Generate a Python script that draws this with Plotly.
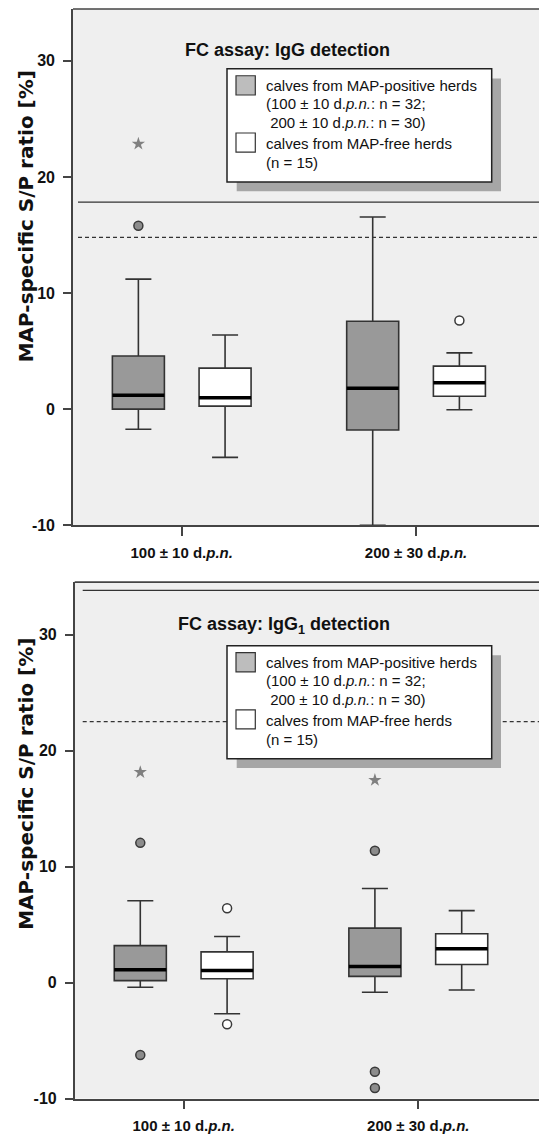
import plotly.graph_objects as go

W, H = 547, 1140
PAGE_MARGIN = 8  # default body margin of the written page

# ---------------- data ----------------
categories = ["100 ± 10 d.<i>p.n.</i>", "200 ± 30 d.<i>p.n.</i>"]
legend_lines = [
    "calves from MAP-positive herds",
    "(100 ± 10 d.<i>p.n.</i>: n = 32;",
    " 200 ± 10 d.<i>p.n.</i>: n = 30)",
    "calves from MAP-free herds",
    "(n = 15)",
]
y_ticks = [-10, 0, 10, 20, 30]

# Panel 1: IgG detection
igg_pos_q1 = [0.0, -1.8]
igg_pos_median = [1.2, 1.8]
igg_pos_q3 = [4.58, 7.57]
igg_pos_low = [-1.74, -10.0]
igg_pos_high = [11.2, 16.55]
igg_free_q1 = [0.26, 1.11]
igg_free_median = [0.97, 2.27]
igg_free_q3 = [3.53, 3.7]
igg_free_low = [-4.16, -0.06]
igg_free_high = [6.38, 4.84]
igg_pos_circle_cat = [0]
igg_pos_circle_val = [15.8]
igg_pos_star_cat = [0]
igg_pos_star_val = [22.85]
igg_free_circle_cat = [1]
igg_free_circle_val = [7.63]
igg_cutoff_solid = 17.83
igg_cutoff_dashed = 14.79

# Panel 2: IgG1 detection
igg1_pos_q1 = [0.17, 0.54]
igg1_pos_median = [1.11, 1.39]
igg1_pos_q3 = [3.19, 4.7]
igg1_pos_low = [-0.4, -0.83]
igg1_pos_high = [7.06, 8.12]
igg1_free_q1 = [0.34, 1.56]
igg1_free_median = [1.05, 2.93]
igg1_free_q3 = [2.65, 4.21]
igg1_free_low = [-2.68, -0.63]
igg1_free_high = [3.98, 6.21]
igg1_pos_circle_cat = [0, 0, 1, 1, 1]
igg1_pos_circle_val = [12.05, -6.24, 11.37, -7.69, -9.09]
igg1_pos_star_cat = [0, 1]
igg1_pos_star_val = [18.14, 17.46]
igg1_free_circle_cat = [0, 0]
igg1_free_circle_val = [6.41, -3.59]
igg1_cutoff_solid = 33.82
igg1_cutoff_dashed = 22.51

# ---------------- styling ----------------
FONT = "Liberation Sans, Arial, sans-serif"
BOX_GRAY = "#999999"
EDGE = "#333333"
OFF = 0.185
BW = 0.222

fig = go.Figure()


def px_x(x):
    return (x - PAGE_MARGIN) / W


def px_y(y):
    return 1 - (y - PAGE_MARGIN) / H


def add_panel(ax, pos, free, pos_c, pos_s, free_c):
    xa = "x" if ax == 1 else "x%d" % ax
    ya = "y" if ax == 1 else "y%d" % ax
    for (q1, med, q3, lo, hi), off, fill in [(pos, -OFF, BOX_GRAY), (free, OFF, "white")]:
        xs = [i + off for i in range(len(categories))]
        fig.add_trace(go.Box(
            x=xs, q1=q1, median=med, q3=q3, lowerfence=lo, upperfence=hi,
            width=BW, fillcolor=fill, line=dict(color=EDGE, width=1.6),
            whiskerwidth=0.5, boxpoints=False, showlegend=False,
            xaxis=xa, yaxis=ya, hoverinfo="skip"))
        # thick median bar
        fig.add_trace(go.Box(
            x=xs, q1=med, median=med, q3=med, lowerfence=med, upperfence=med,
            width=BW, fillcolor="rgba(0,0,0,0)", line=dict(color="black", width=3.5),
            whiskerwidth=0, boxpoints=False, showlegend=False,
            xaxis=xa, yaxis=ya, hoverinfo="skip"))
    cc, cv = pos_c
    fig.add_trace(go.Scatter(
        x=[c - OFF for c in cc], y=cv, mode="markers", showlegend=False,
        marker=dict(symbol="circle", size=9, color="#8c8c8c", line=dict(color="#3a3a3a", width=1.5)),
        xaxis=xa, yaxis=ya, hoverinfo="skip"))
    sc, sv = pos_s
    fig.add_trace(go.Scatter(
        x=[c - OFF for c in sc], y=sv, mode="markers", showlegend=False,
        marker=dict(symbol="star", size=10, color="#808080", line=dict(width=0)),
        xaxis=xa, yaxis=ya, hoverinfo="skip"))
    fc, fv = free_c
    fig.add_trace(go.Scatter(
        x=[c + OFF for c in fc], y=fv, mode="markers", showlegend=False,
        marker=dict(symbol="circle", size=9, color="white", line=dict(color="#3a3a3a", width=1.5)),
        xaxis=xa, yaxis=ya, hoverinfo="skip"))


add_panel(1,
          (igg_pos_q1, igg_pos_median, igg_pos_q3, igg_pos_low, igg_pos_high),
          (igg_free_q1, igg_free_median, igg_free_q3, igg_free_low, igg_free_high),
          (igg_pos_circle_cat, igg_pos_circle_val),
          (igg_pos_star_cat, igg_pos_star_val),
          (igg_free_circle_cat, igg_free_circle_val))
add_panel(2,
          (igg1_pos_q1, igg1_pos_median, igg1_pos_q3, igg1_pos_low, igg1_pos_high),
          (igg1_free_q1, igg1_free_median, igg1_free_q3, igg1_free_low, igg1_free_high),
          (igg1_pos_circle_cat, igg1_pos_circle_val),
          (igg1_pos_star_cat, igg1_pos_star_val),
          (igg1_free_circle_cat, igg1_free_circle_val))

tickfont = dict(family=FONT, size=15, color="#111111")


def xaxis_cfg(left_px, rng, anchor):
    return dict(domain=[px_x(left_px), 1.0], range=rng, anchor=anchor,
                tickmode="array", tickvals=list(range(len(categories))),
                ticktext=["<b>%s</b>" % c for c in categories],
                ticks="outside", ticklen=9, tickwidth=1.5, tickcolor="#444",
                ticklabelstandoff=4,
                showline=True, linecolor="#444", linewidth=1.6,
                showgrid=False, zeroline=False, tickfont=tickfont)


def yaxis_cfg(top_px, bot_px, rng, anchor):
    return dict(domain=[px_y(bot_px), px_y(top_px)], range=rng, anchor=anchor,
                tickmode="array", tickvals=y_ticks,
                ticktext=["<b>%d</b>" % t for t in y_ticks],
                ticks="outside", ticklen=8, tickwidth=1.5, tickcolor="#444",
                ticklabelstandoff=5,
                showline=True, linecolor="#444", linewidth=1.6,
                showgrid=False, zeroline=False,
                tickfont=dict(family=FONT, size=16, color="#111111"))


shapes = []
annotations = []


def panel_decor(ax, title, off_y, solid, dashed, line_x0, title_x, title_y, ytitle_y):
    xd = "x domain" if ax == 1 else "x%d domain" % ax
    yd = "y domain" if ax == 1 else "y%d domain" % ax
    yr = "y" if ax == 1 else "y%d" % ax
    # top frame line
    shapes.append(dict(type="line", xref=xd, yref=yd, x0=0, x1=1, y0=1, y1=1,
                       line=dict(color="#444", width=1.6)))
    # cut-off lines
    shapes.append(dict(type="line", xref="paper", yref=yr, x0=px_x(line_x0), x1=px_x(543),
                       y0=solid, y1=solid, line=dict(color="#333", width=1.3)))
    shapes.append(dict(type="line", xref="paper", yref=yr, x0=px_x(line_x0), x1=1,
                       y0=dashed, y1=dashed, line=dict(color="#333", width=1.3, dash="4px,3px")))
    # legend shadow + box
    shapes.append(dict(type="rect", xref="paper", yref="paper",
                       x0=px_x(236.7), x1=px_x(501), y0=px_y(79 + off_y), y1=px_y(192.7 + off_y),
                       fillcolor="#a6a6a6", line=dict(width=0)))
    shapes.append(dict(type="rect", xref="paper", yref="paper",
                       x0=px_x(227), x1=px_x(491.7), y0=px_y(69.3 + off_y), y1=px_y(183.3 + off_y),
                       fillcolor="white", line=dict(color="#222", width=1.5)))
    # swatches
    shapes.append(dict(type="rect", xref="paper", yref="paper",
                       x0=px_x(236), x1=px_x(255.3), y0=px_y(76.3 + off_y), y1=px_y(95.7 + off_y),
                       fillcolor="#bdbdbd", line=dict(color="#333", width=1.2)))
    shapes.append(dict(type="rect", xref="paper", yref="paper",
                       x0=px_x(236), x1=px_x(255.3), y0=px_y(134 + off_y), y1=px_y(153.3 + off_y),
                       fillcolor="white", line=dict(color="#333", width=1.2)))
    for txt, yc in zip(legend_lines, [86, 104.3, 123.3, 144.3, 163.7]):
        annotations.append(dict(text=txt, xref="paper", yref="paper", x=px_x(264),
                                y=px_y(yc + off_y), xanchor="left", yanchor="middle",
                                showarrow=False, font=dict(family=FONT, size=15, color="#111")))
    annotations.append(dict(text="<b>%s</b>" % title, xref="paper", yref="paper",
                            x=px_x(title_x), y=px_y(title_y), xanchor="center", yanchor="middle",
                            showarrow=False, font=dict(family=FONT, size=18, color="#111")))
    annotations.append(dict(text="<b>MAP-specific S/P ratio [%]</b>", xref="paper", yref="paper",
                            x=px_x(26), y=px_y(ytitle_y), xanchor="center", yanchor="middle",
                            textangle=-90, showarrow=False,
                            font=dict(family="DejaVu Sans, sans-serif", size=20, color="#111")))


panel_decor(1, "FC assay: IgG detection", 0, igg_cutoff_solid, igg_cutoff_dashed, 78, 287.5, 50, 218)
panel_decor(2, "FC assay: IgG<sub>1</sub> detection", 581.4, igg1_cutoff_solid, igg1_cutoff_dashed,
            82.7, 284, 630, 790)

fig.update_layout(
    width=W, height=H,
    margin=dict(l=0, r=0, t=0, b=0),
    paper_bgcolor="white",
    plot_bgcolor="#efefef",
    showlegend=False,
    xaxis=xaxis_cfg(73, [-0.464, 1.593], "y"),
    yaxis=yaxis_cfg(9, 529.3, [-10, 34.47], "x"),
    xaxis2=xaxis_cfg(74.7, [-0.4646, 1.5827], "y2"),
    yaxis2=yaxis_cfg(586.7, 1107.3, [-10, 34.53], "x2"),
    shapes=shapes,
    annotations=annotations,
    font=dict(family=FONT),
)

fig.write_html("out.html")
